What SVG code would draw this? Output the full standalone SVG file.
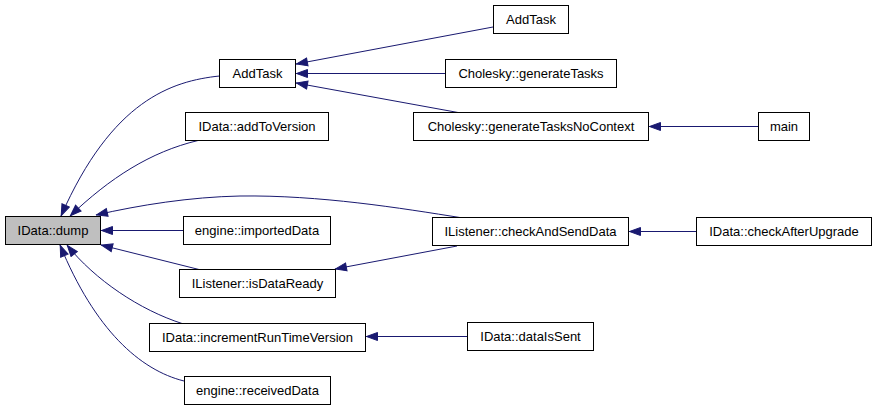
<svg xmlns="http://www.w3.org/2000/svg" width="877" height="411" viewBox="0 0 877 411">
<defs>
<style>
.node rect{fill:#ffffff;stroke:#000000;stroke-width:1}
.node.cur rect{fill:#bfbfbf}
.node text{font-family:"Liberation Sans",Arial,sans-serif;font-size:13px;fill:#000000;text-anchor:middle}
.edge{fill:none;stroke:#191970;stroke-width:1;marker-end:url(#arr)}
</style>
<marker id="arr" viewBox="-1 -1 13 10" refX="11.5" refY="4" markerWidth="13" markerHeight="10" markerUnits="userSpaceOnUse" orient="auto">
<path d="M0,0 L11,4 L0,8 Z" fill="#191970" stroke="#191970" stroke-width="1"/>
</marker>
</defs>
<rect width="877" height="411" fill="#ffffff"/>
<g id="edges">
<path class="edge" d="M219.5,76 C172,81 112,100 61,216"/>
<path class="edge" d="M198,140.5 C150,152 110,178 70,216"/>
<path class="edge" d="M463,218 C400,208 320,195 240,196 C190,197 140,205 96,215"/>
<path class="edge" d="M183.5,230.5 L101,230.5"/>
<path class="edge" d="M199,269.5 L101,245"/>
<path class="edge" d="M182,323.5 C140,310 95,280 67,245"/>
<path class="edge" d="M184,381 C140,370 95,330 60,245"/>
<path class="edge" d="M457,246 L335,269"/>
<path class="edge" d="M696,231.5 L629,231.5"/>
<path class="edge" d="M467.5,336.5 L366,336.5"/>
<path class="edge" d="M758,126.5 L649,126.5"/>
<path class="edge" d="M493,27 L296,64"/>
<path class="edge" d="M445,73.5 L296,73.5"/>
<path class="edge" d="M458,112.5 L296,83"/>
</g>
<g id="n_dump" class="node cur"><rect x="5.5" y="216.5" width="95" height="28"/><text x="53" y="235">IData::dump</text></g>
<g id="n_addtask1" class="node"><rect x="219.5" y="59.5" width="76" height="28"/><text x="257.5" y="78">AddTask</text></g>
<g id="n_addtoversion" class="node"><rect x="185.5" y="112.5" width="143" height="28"/><text x="257" y="131">IData::addToVersion</text></g>
<g id="n_importeddata" class="node"><rect x="183.5" y="216.5" width="147" height="28"/><text x="257" y="235">engine::importedData</text></g>
<g id="n_isdataready" class="node"><rect x="179.5" y="269.5" width="156" height="28"/><text x="257.5" y="288">IListener::isDataReady</text></g>
<g id="n_increment" class="node"><rect x="149.5" y="323.5" width="216" height="28"/><text x="257.5" y="342">IData::incrementRunTimeVersion</text></g>
<g id="n_receiveddata" class="node"><rect x="184.5" y="376.5" width="146" height="28"/><text x="257.5" y="395">engine::receivedData</text></g>
<g id="n_addtask2" class="node"><rect x="493.5" y="5.5" width="75" height="28"/><text x="531" y="24">AddTask</text></g>
<g id="n_gentasks" class="node"><rect x="445.5" y="59.5" width="171" height="28"/><text x="531" y="78">Cholesky::generateTasks</text></g>
<g id="n_gentasksnc" class="node"><rect x="413.5" y="112.5" width="235" height="28"/><text x="531" y="131">Cholesky::generateTasksNoContext</text></g>
<g id="n_main" class="node"><rect x="758.5" y="112.5" width="51" height="28"/><text x="784" y="131">main</text></g>
<g id="n_checksend" class="node"><rect x="432.5" y="217.5" width="196" height="28"/><text x="530.5" y="236">IListener::checkAndSendData</text></g>
<g id="n_checkafter" class="node"><rect x="696.5" y="217.5" width="175" height="28"/><text x="784" y="236">IData::checkAfterUpgrade</text></g>
<g id="n_dataissent" class="node"><rect x="467.5" y="322.5" width="126" height="28"/><text x="530.5" y="341">IData::dataIsSent</text></g>
</svg>
